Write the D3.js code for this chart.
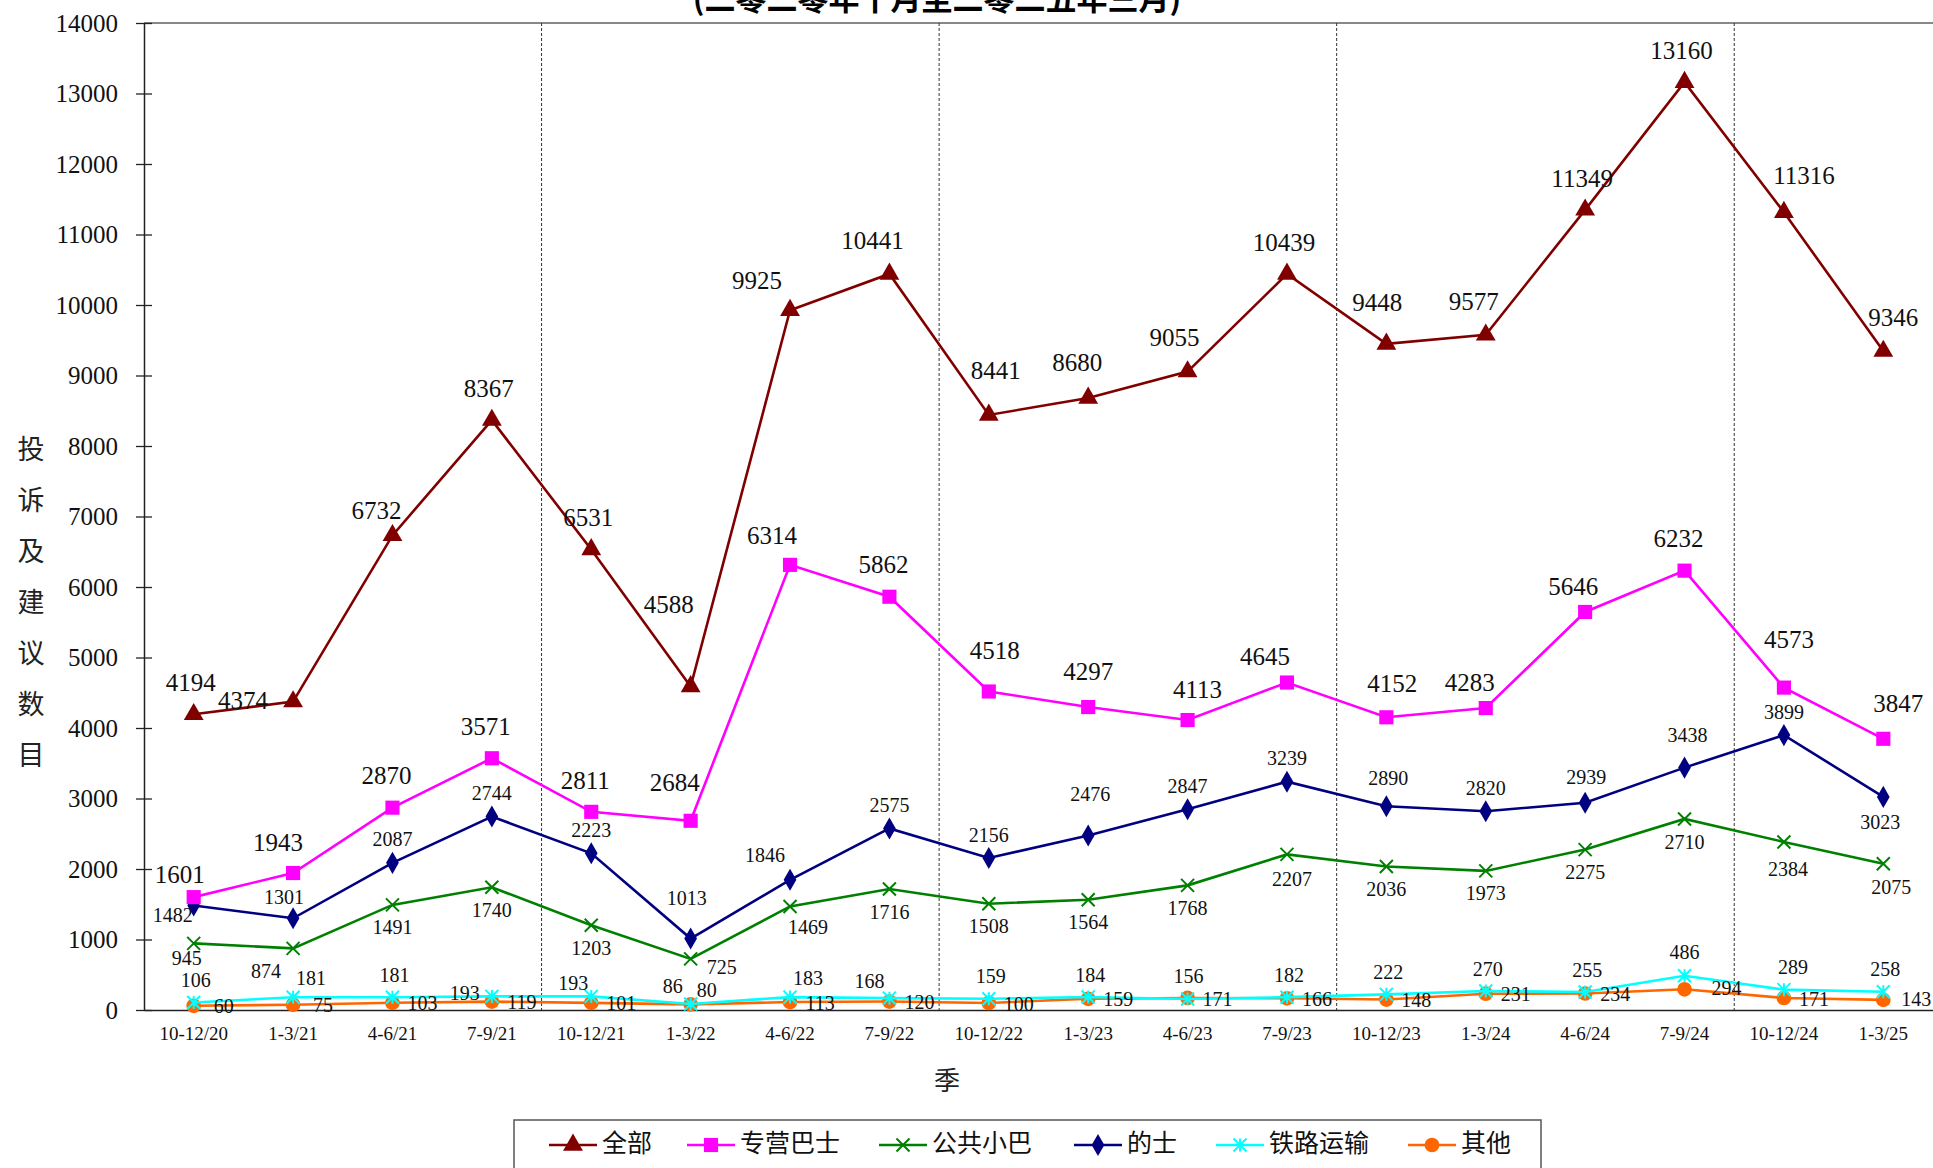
<!DOCTYPE html>
<html>
<head>
<meta charset="utf-8">
<script src="https://cdn.jsdelivr.net/npm/d3@7"></script>
<style>
  body { margin: 0; background: #fff; overflow: hidden; }
  .cjk { font-family: "Noto Sans CJK SC", "Noto Sans", sans-serif; }
  .num { font-family: "Liberation Serif", "DejaVu Serif", serif; }
</style>
</head>
<body>
<div id="chart"></div>
<script>
// quarters
const quarters = ["10-12/20", "1-3/21", "4-6/21", "7-9/21", "10-12/21", "1-3/22", "4-6/22", "7-9/22",
    "10-12/22", "1-3/23", "4-6/23", "7-9/23", "10-12/23", "1-3/24", "4-6/24", "7-9/24", "10-12/24", "1-3/25"];

const allCases   = [4194, 4374, 6732, 8367, 6531, 4588, 9925, 10441, 8441, 8680, 9055, 10439, 9448, 9577, 11349, 13160, 11316, 9346];
const franchised = [1601, 1943, 2870, 3571, 2811, 2684, 6314, 5862, 4518, 4297, 4113, 4645, 4152, 4283, 5646, 6232, 4573, 3847];
const minibus    = [945, 874, 1491, 1740, 1203, 725, 1469, 1716, 1508, 1564, 1768, 2207, 2036, 1973, 2275, 2710, 2384, 2075];
const taxi       = [1482, 1301, 2087, 2744, 2223, 1013, 1846, 2575, 2156, 2476, 2847, 3239, 2890, 2820, 2939, 3438, 3899, 3023];
const rail       = [106, 181, 181, 193, 193, 86, 183, 168, 159, 184, 156, 182, 222, 270, 255, 486, 289, 258];
const others     = [60, 75, 103, 119, 101, 80, 113, 120, 100, 159, 171, 166, 148, 231, 234, 294, 171, 143];

const seriesNames = ["全部", "专营巴士", "公共小巴", "的士", "铁路运输", "其他"];
const yTicks = [0, 1000, 2000, 3000, 4000, 5000, 6000, 7000, 8000, 9000, 10000, 11000, 12000, 13000, 14000];

const series = [
    { name: seriesNames[0], values: allCases,   color: "#800000", symbol: d3.symbolTriangle, size: 170, fs: 25, dx: -3, dy: -29,
      nudge: { 1: [-50, 2], 5: [-22, -79], 6: [-33, -27], 7: [-17, -31], 8: [7, -42], 9: [-11, -33], 10: [-13, -31],
               12: [-9, -39], 13: [-12, -31], 16: [20, -34], 17: [10, -31], 2: [-16, -22] } },
    { name: seriesNames[1], values: franchised, color: "#ff00ff", symbol: d3.symbolSquare, size: 200, fs: 25, dx: -6, dy: -29,
      nudge: { 0: [-14, -20], 1: [-15, -28], 5: [-16, -36], 6: [-18, -27], 8: [6, -38], 9: [0, -33], 10: [10, -28],
               11: [-22, -23], 12: [6, -31], 13: [-16, -23], 14: [-12, -23], 16: [5, -45], 17: [15, -33] } },
    { name: seriesNames[2], values: minibus,    color: "#008000", symbol: "cross", size: 13, fs: 20, dx: 0, dy: 25,
      nudge: { 0: [-7, 17], 1: [-27, 25], 5: [31, 11], 6: [18, 23], 11: [5, 27], 16: [4, 29], 17: [8, 26] } },
    { name: seriesNames[3], values: taxi,       color: "#000080", symbol: d3.symbolDiamond, size: 140, fs: 20, dx: 0, dy: -21,
      nudge: { 0: [-21, 12], 1: [-9, -19], 5: [-4, -38], 6: [-25, -22], 9: [2, -39], 12: [2, -26], 14: [1, -23],
               15: [3, -30], 17: [-3, 28] } },
    { name: seriesNames[4], values: rail,       color: "#00ffff", symbol: "asterisk", size: 13, fs: 20, dx: 2, dy: -20,
      nudge: { 1: [18, -17], 3: [-27, -1], 4: [-18, -11], 5: [-18, -16], 6: [18, -17], 7: [-20, -15], 10: [1, -21],
               15: [0, -21], 16: [9, -20] } },
    { name: seriesNames[5], values: others,     color: "#ff6600", symbol: d3.symbolCircle, size: 170, fs: 20, dx: 30, dy: 3,
      nudge: { 5: [16, -12], 15: [42, 1], 17: [33, 1] } }
];

const W = 1933, H = 1168;
const margin = { top: 23, right: 0, bottom: 158, left: 144 };
const innerW = W - margin.left - margin.right;
const innerH = H - margin.top - margin.bottom;

const svg = d3.select("#chart").append("svg")
    .attr("width", W)
    .attr("height", H);

// title, mostly above the page edge (as in the source picture)
svg.append("text")
    .attr("class", "cjk")
    .attr("x", 937)
    .attr("y", 10)
    .attr("text-anchor", "middle")
    .attr("font-size", 31)
    .attr("font-weight", "bold")
    .text("(二零二零年十月至二零二五年三月)");

const g = svg.append("g")
    .attr("transform", "translate(" + margin.left + "," + margin.top + ")");

const x = d3.scaleBand().domain(quarters).range([0, innerW]);
const cx = d => x(d) + x.bandwidth() / 2;
const y = d3.scaleLinear().domain([0, 14000]).range([innerH, 0]);

// top frame line
g.append("line")
    .attr("x1", 0).attr("x2", innerW)
    .attr("y1", 0).attr("y2", 0)
    .attr("stroke", "#888").attr("stroke-width", 2);

// year separators
[4, 8, 12, 16].forEach(i => {
    g.append("line")
        .attr("x1", x(quarters[i])).attr("x2", x(quarters[i]))
        .attr("y1", 0).attr("y2", innerH)
        .attr("stroke", "#333").attr("stroke-width", 1)
        .attr("stroke-dasharray", "3,2");
});

// y axis
const yAxis = d3.axisLeft(y).tickValues(yTicks).tickFormat(d3.format("d"))
    .tickSizeInner(8).tickSizeOuter(0).tickPadding(18);
const yg = g.append("g").attr("class", "y-axis").call(yAxis)
    .attr("font-family", "Liberation Serif, serif");
yg.select(".domain").attr("stroke", "#222").attr("stroke-width", 1.5);
yg.selectAll(".tick line").attr("x2", 8).attr("x1", -8).attr("stroke", "#222").attr("stroke-width", 1.3);
yg.selectAll(".tick text")
    .attr("font-size", 25)
    .attr("fill", "#111");

// x axis
const xAxis = d3.axisBottom(x).tickSize(0).tickPadding(17);
const xg = g.append("g").attr("class", "x-axis")
    .attr("transform", "translate(0," + innerH + ")")
    .call(xAxis)
    .attr("font-family", "Liberation Serif, serif");
xg.select(".domain").attr("stroke", "#222").attr("stroke-width", 1.5);
xg.selectAll(".tick text")
    .attr("font-size", 19)
    .attr("fill", "#111");

// axis titles
svg.append("text")
    .attr("class", "cjk")
    .attr("x", 947).attr("y", 1083)
    .attr("text-anchor", "middle")
    .attr("dominant-baseline", "middle")
    .attr("font-size", 26)
    .attr("fill", "#222")
    .text("季");

const yTitle = "投诉及建议数目".split("");
svg.append("g").selectAll("text")
    .data(yTitle)
    .enter().append("text")
    .attr("class", "cjk")
    .attr("x", 31)
    .attr("y", (d, i) => 452 + i * 51)
    .attr("text-anchor", "middle")
    .attr("dominant-baseline", "middle")
    .attr("font-size", 27)
    .attr("fill", "#222")
    .text(d => d);

// marker drawing
function drawMarker(sel, s) {
    if (s.symbol === "cross") {
        const r = s.size / 2;
        sel.append("path")
            .attr("d", `M${-r},${-r}L${r},${r}M${-r},${r}L${r},${-r}`)
            .attr("stroke", s.color).attr("stroke-width", 2).attr("fill", "none");
    } else if (s.symbol === "asterisk") {
        const r = s.size / 2;
        sel.append("path")
            .attr("d", `M${-r},${-r}L${r},${r}M${-r},${r}L${r},${-r}M0,${-r}L0,${r}`)
            .attr("stroke", s.color).attr("stroke-width", 2).attr("fill", "none");
    } else {
        sel.append("path")
            .attr("d", d3.symbol().type(s.symbol).size(s.size)())
            .attr("fill", s.color);
    }
}

const line = d3.line()
    .x((d, i) => cx(quarters[i]))
    .y(d => y(d));

// draw back to front: others underneath
series.slice().reverse().forEach(s => {
    g.append("path")
        .datum(s.values)
        .attr("d", line)
        .attr("fill", "none")
        .attr("stroke", s.color)
        .attr("stroke-width", 2.6);

    const pts = g.append("g").selectAll("g")
        .data(s.values)
        .enter().append("g")
        .attr("transform", (d, i) => "translate(" + cx(quarters[i]) + "," + y(d) + ")");
    pts.each(function () { drawMarker(d3.select(this), s); });
});

// labels on top
series.forEach(s => {
    g.append("g").selectAll("text")
        .data(s.values)
        .enter().append("text")
        .attr("class", "num")
        .attr("x", (d, i) => cx(quarters[i]) + (s.nudge[i] ? s.nudge[i][0] : s.dx))
        .attr("y", (d, i) => y(d) + (s.nudge[i] ? s.nudge[i][1] : s.dy))
        .attr("text-anchor", "middle")
        .attr("dominant-baseline", "middle")
        .attr("font-size", s.fs)
        .attr("fill", "#111")
        .text(d => d);
});

// legend
const legend = svg.append("g");
legend.append("rect")
    .attr("x", 514).attr("y", 1120)
    .attr("width", 1027).attr("height", 80)
    .attr("fill", "#fff")
    .attr("stroke", "#555").attr("stroke-width", 1.5);

const legendX = [549, 687, 879, 1074, 1216, 1408];
series.forEach((s, i) => {
    const item = legend.append("g").attr("transform", "translate(" + legendX[i] + ",1145)");
    item.append("line")
        .attr("x1", 0).attr("x2", 48)
        .attr("stroke", s.color).attr("stroke-width", 2.6);
    const m = item.append("g").attr("transform", "translate(24,0)");
    drawMarker(m, s);
    item.append("text")
        .attr("class", "cjk")
        .attr("x", 53)
        .attr("dominant-baseline", "middle")
        .attr("font-size", 25)
        .attr("fill", "#111")
        .text(s.name);
});
</script>
</body>
</html>
